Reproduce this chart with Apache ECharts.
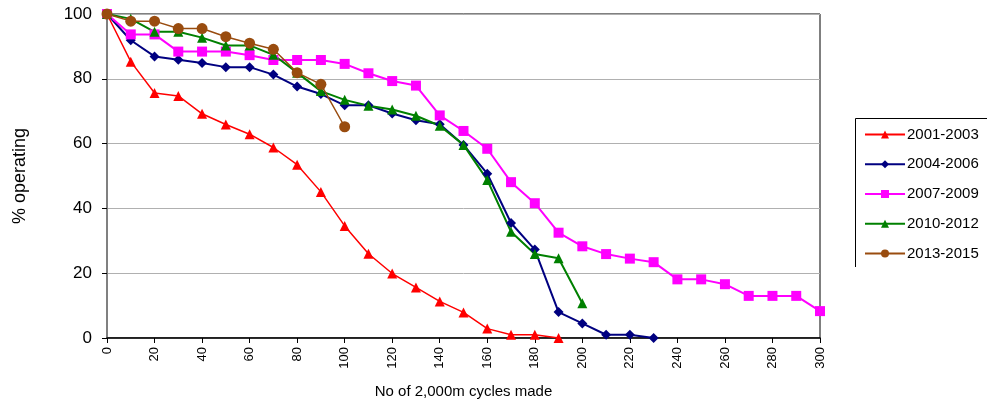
<!DOCTYPE html>
<html>
<head>
<meta charset="utf-8">
<script src="https://cdn.jsdelivr.net/npm/echarts@6/dist/echarts.min.js"></script>
<style>
html,body{margin:0;padding:0;background:#fff;}
#chart{width:987px;height:405px;}
</style>
</head>
<body>
<div id="chart"></div>
<script>
var cycles = [0,10,20,30,40,50,60,70,80,90,100,110,120,130,140,150,160,170,180,190,200,210,220,230,240,250,260,270,280,290,300];
var s2001 = [100,85.3,75.6,74.7,69.2,65.9,62.9,58.8,53.5,45.1,34.6,26.0,19.9,15.6,11.3,7.9,2.9,1,1,0];
var s2004 = [100,91.9,86.9,85.9,84.9,83.6,83.6,81.3,77.6,75.3,71.8,71.8,69.3,67.2,66.0,59.6,50.7,35.5,27.3,8.0,4.5,1,1,0];
var s2007 = [100,93.7,93.7,88.4,88.4,88.4,87.3,85.8,85.8,85.8,84.6,81.7,79.3,77.9,68.7,63.9,58.4,48.1,41.6,32.5,28.3,25.9,24.5,23.4,18.1,18.1,16.6,13.0,13.0,13.0,8.3];
var s2010 = [100,98.5,94.5,94.5,92.7,90.3,90.3,87.4,81.9,76.2,73.5,71.7,70.5,68.6,65.5,59.6,48.8,32.8,25.9,24.6,10.7];
var s2013 = [100,97.8,97.8,95.5,95.5,93.0,91.0,89.1,81.9,78.3,65.2];
var legendNames = ['2001-2003','2004-2006','2007-2009','2010-2012','2013-2015'];
var yTicks = [0,20,40,60,80,100];

function pairs(vals){ return vals.map(function(v,i){ return [cycles[i], v]; }); }

var chart = echarts.init(document.getElementById('chart'), null, {renderer:'canvas'});
var font = 'Liberation Sans, Arial, sans-serif';
function mk(name, vals, color, symbol, size, lw){
  return {
    name: name, type: 'line', data: pairs(vals),
    symbol: symbol, symbolSize: size, showSymbol: true,
    lineStyle: {color: color, width: lw},
    itemStyle: {color: color},
    emphasis: {disabled: true},
    animation: false
  };
}
chart.setOption({
  animation: false,
  backgroundColor: '#fff',
  textStyle: {fontFamily: font, color: '#000'},
  grid: {left: 107, right: 167, top: 14, bottom: 67, show: true, borderColor: '#000', borderWidth: 1},
  xAxis: {
    type: 'value', min: 0, max: 300, interval: 20,
    name: 'No of 2,000m cycles made', nameLocation: 'middle', nameGap: 46,
    nameTextStyle: {fontSize: 15, color: '#000', fontFamily: font},
    axisLine: {show: true, lineStyle: {color: '#000', width: 1.5}},
    axisTick: {show: true, inside: false, length: 5, lineStyle: {color: '#000'}},
    axisLabel: {rotate: 90, fontSize: 13, color: '#000', margin: 9, fontFamily: font},
    splitLine: {show: false}
  },
  yAxis: {
    type: 'value', min: 0, max: 100, interval: 20,
    name: '% operating', nameLocation: 'middle', nameGap: 78, nameRotate: 90,
    nameTextStyle: {fontSize: 18, color: '#000', fontFamily: font},
    axisLine: {show: true, lineStyle: {color: '#808080', width: 2}},
    axisTick: {show: true, inside: false, length: 5, lineStyle: {color: '#000'}},
    axisLabel: {fontSize: 17, color: '#000', margin: 15, fontFamily: font,
      formatter: function(v){ return yTicks.indexOf(v) >= 0 ? String(v) : ''; }},
    splitLine: {show: true, lineStyle: {color: '#b0b0b0', width: 1}}
  },
  legend: {
    orient: 'vertical', left: 859, top: 122, itemGap: 14.75,
    itemWidth: 40, itemHeight: 10,
    data: legendNames,
    textStyle: {fontSize: 15, color: '#000', fontFamily: font, padding: [0,0,0,-3]}
  },
  graphic: [{
    type: 'polyline', shape: {points: [[855.5,267],[855.5,118.5],[990,118.5]]},
    style: {fill: 'none', stroke: '#000', lineWidth: 1}, silent: true
  }],
  series: [
    mk(legendNames[0], s2001, '#ff0000', 'triangle', 10, 1.5),
    mk(legendNames[1], s2004, '#000080', 'diamond', 10, 2),
    mk(legendNames[2], s2007, '#ff00ff', 'rect', 10, 2),
    mk(legendNames[3], s2010, '#008000', 'triangle', 10, 2),
    mk(legendNames[4], s2013, '#994c0f', 'circle', 11, 1.5)
  ]
});
</script>
</body>
</html>
